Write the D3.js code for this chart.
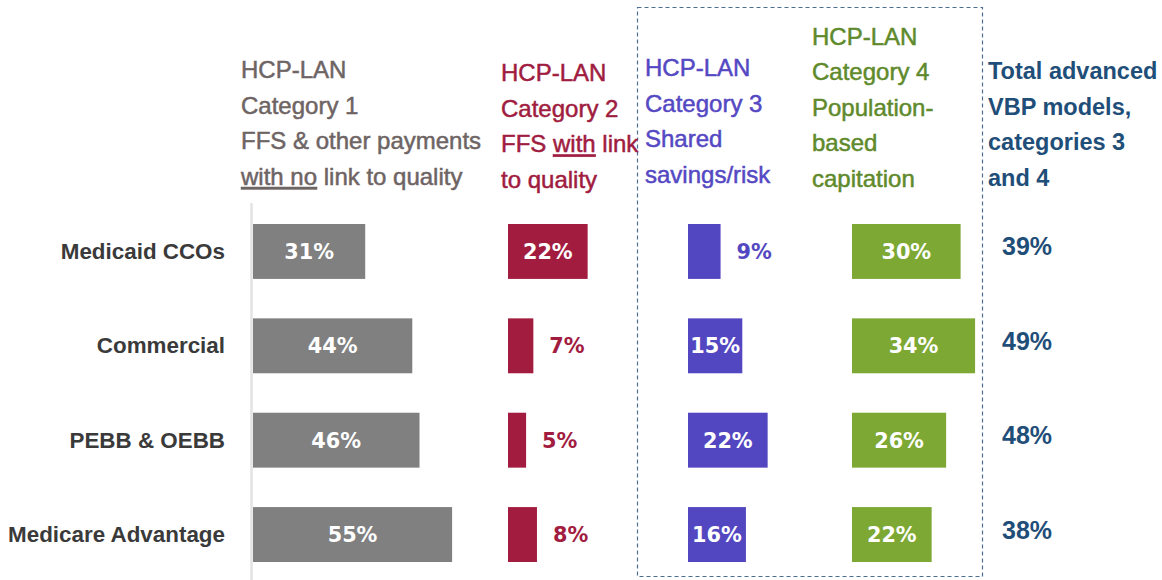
<!DOCTYPE html>
<html>
<head>
<meta charset="utf-8">
<script src="https://cdn.jsdelivr.net/npm/d3@7/dist/d3.min.js"></script>
<style>
  html, body { margin: 0; padding: 0; background: #ffffff; }
  svg { display: block; }
</style>
</head>
<body>
<svg id="chart" width="1162" height="580"></svg>
<script>
// ---------------- DATA ----------------
const categories = ["Medicaid CCOs", "Commercial", "PEBB & OEBB", "Medicare Advantage"];
const cat1Values = [31, 44, 46, 55];   // HCP-LAN Category 1
const cat2Values = [22, 7, 5, 8];      // HCP-LAN Category 2
const cat3Values = [9, 15, 22, 16];    // HCP-LAN Category 3
const cat4Values = [30, 34, 26, 22];   // HCP-LAN Category 4
const totalValues = [39, 49, 48, 38];  // Total advanced VBP (cat 3 + 4)

// Header lines; segments marked u:true are underlined
const header1 = [[{t:"HCP-LAN"}], [{t:"Category 1"}], [{t:"FFS & other payments"}], [{t:"with no", u:true}, {t:" link to quality"}]];
const header2 = [[{t:"HCP-LAN"}], [{t:"Category 2"}], [{t:"FFS "}, {t:"with", u:true}, {t:" link"}], [{t:"to quality"}]];
const header3 = [[{t:"HCP-LAN"}], [{t:"Category 3"}], [{t:"Shared"}], [{t:"savings/risk"}]];
const header4 = [[{t:"HCP-LAN"}], [{t:"Category 4"}], [{t:"Population-"}], [{t:"based"}], [{t:"capitation"}]];
const headerT = [[{t:"Total advanced"}], [{t:"VBP models,"}], [{t:"categories 3"}], [{t:"and 4"}]];

// ---------------- LAYOUT / STYLE ----------------
const svg = d3.select("#chart");
const headFont = "'Liberation Sans', Arial, sans-serif";
const valFont = "'DejaVu Sans', Verdana, sans-serif";

const y = d3.scaleBand().domain(categories).range([224, 562]).paddingInner(0.418).paddingOuter(0);
const w = d3.scaleLinear().domain([0, 100]).range([0, 362]);

const columns = [
  {values: cat1Values, x0: 253, bar: "#808080", text: "#6e6464", header: header1, hx: 241, hBottom: 185},
  {values: cat2Values, x0: 508, bar: "#a21c3f", text: "#a01c40", header: header2, hx: 501, hBottom: 188},
  {values: cat3Values, x0: 688, bar: "#5347c1", text: "#5548c3", header: header3, hx: 645, hBottom: 183},
  {values: cat4Values, x0: 852, bar: "#7da833", text: "#5f8a2c", header: header4, hx: 812, hBottom: 187}
];

// dashed box around categories 3 and 4
svg.append("rect")
  .attr("x", 637.5).attr("y", 7.5).attr("width", 345).attr("height", 569)
  .attr("fill", "none").attr("stroke", "#4e6f93").attr("stroke-width", 1.2)
  .attr("stroke-dasharray", "4,3");

// vertical axis line
svg.append("line")
  .attr("x1", 251.5).attr("x2", 251.5).attr("y1", 203).attr("y2", 580)
  .attr("stroke", "#e3e3e3").attr("stroke-width", 2.5);

// category labels
svg.append("g").selectAll("text").data(categories).join("text")
  .attr("x", 225)
  .attr("y", d => y(d) + y.bandwidth() / 2 + 7.5)
  .attr("text-anchor", "end")
  .attr("font-family", headFont).attr("font-weight", "bold").attr("font-size", 22.4)
  .attr("fill", "#3a3a3a")
  .text(d => d);

const lineH = 35.6;
function drawHeader(lines, x, bottom, color, weight, size, thick) {
  const n = lines.length;
  const g = svg.append("g");
  lines.forEach((segs, i) => {
    const t = g.append("text")
      .attr("x", x).attr("y", bottom - (n - 1 - i) * lineH)
      .attr("font-family", headFont).attr("font-size", size)
      .attr("font-weight", weight).attr("fill", color)
      .attr("stroke", color).attr("stroke-width", thick);
    segs.forEach(s => {
      const ts = t.append("tspan").text(s.t).attr("xml:space", "preserve");
      if (s.u) ts.attr("text-decoration", "underline");
    });
    t.style("white-space", "pre");
  });
}

columns.forEach(col => {
  drawHeader(col.header, col.hx, col.hBottom, col.text, "normal", 24, 0.5);
  const g = svg.append("g");
  const rows = categories.map((c, i) => ({c, v: col.values[i]}));
  g.selectAll("rect").data(rows).join("rect")
    .attr("x", col.x0)
    .attr("y", d => y(d.c))
    .attr("width", d => w(d.v))
    .attr("height", y.bandwidth())
    .attr("fill", col.bar);
  g.selectAll("text").data(rows).join("text")
    .attr("x", d => d.v < 10 ? col.x0 + w(d.v) + 16 : col.x0 + w(d.v) / 2)
    .attr("y", d => y(d.c) + y.bandwidth() / 2 + 7.5)
    .attr("text-anchor", d => d.v < 10 ? "start" : "middle")
    .attr("font-family", valFont).attr("font-weight", "bold").attr("font-size", 20.8)
    .attr("fill", d => d.v < 10 ? col.bar : "#ffffff")
    .text(d => d.v + "%");
});

// Total header and values
drawHeader(headerT, 988, 186, "#1f4e79", "bold", 23.5, 0);
svg.append("g").selectAll("text").data(categories.map((c, i) => ({c, v: totalValues[i]}))).join("text")
  .attr("x", 1002)
  .attr("y", d => y(d.c) + y.bandwidth() / 2 + 4)
  .attr("font-family", headFont).attr("font-weight", "bold").attr("font-size", 25)
  .attr("fill", "#1f4e79")
  .text(d => d.v + "%");
</script>
</body>
</html>
